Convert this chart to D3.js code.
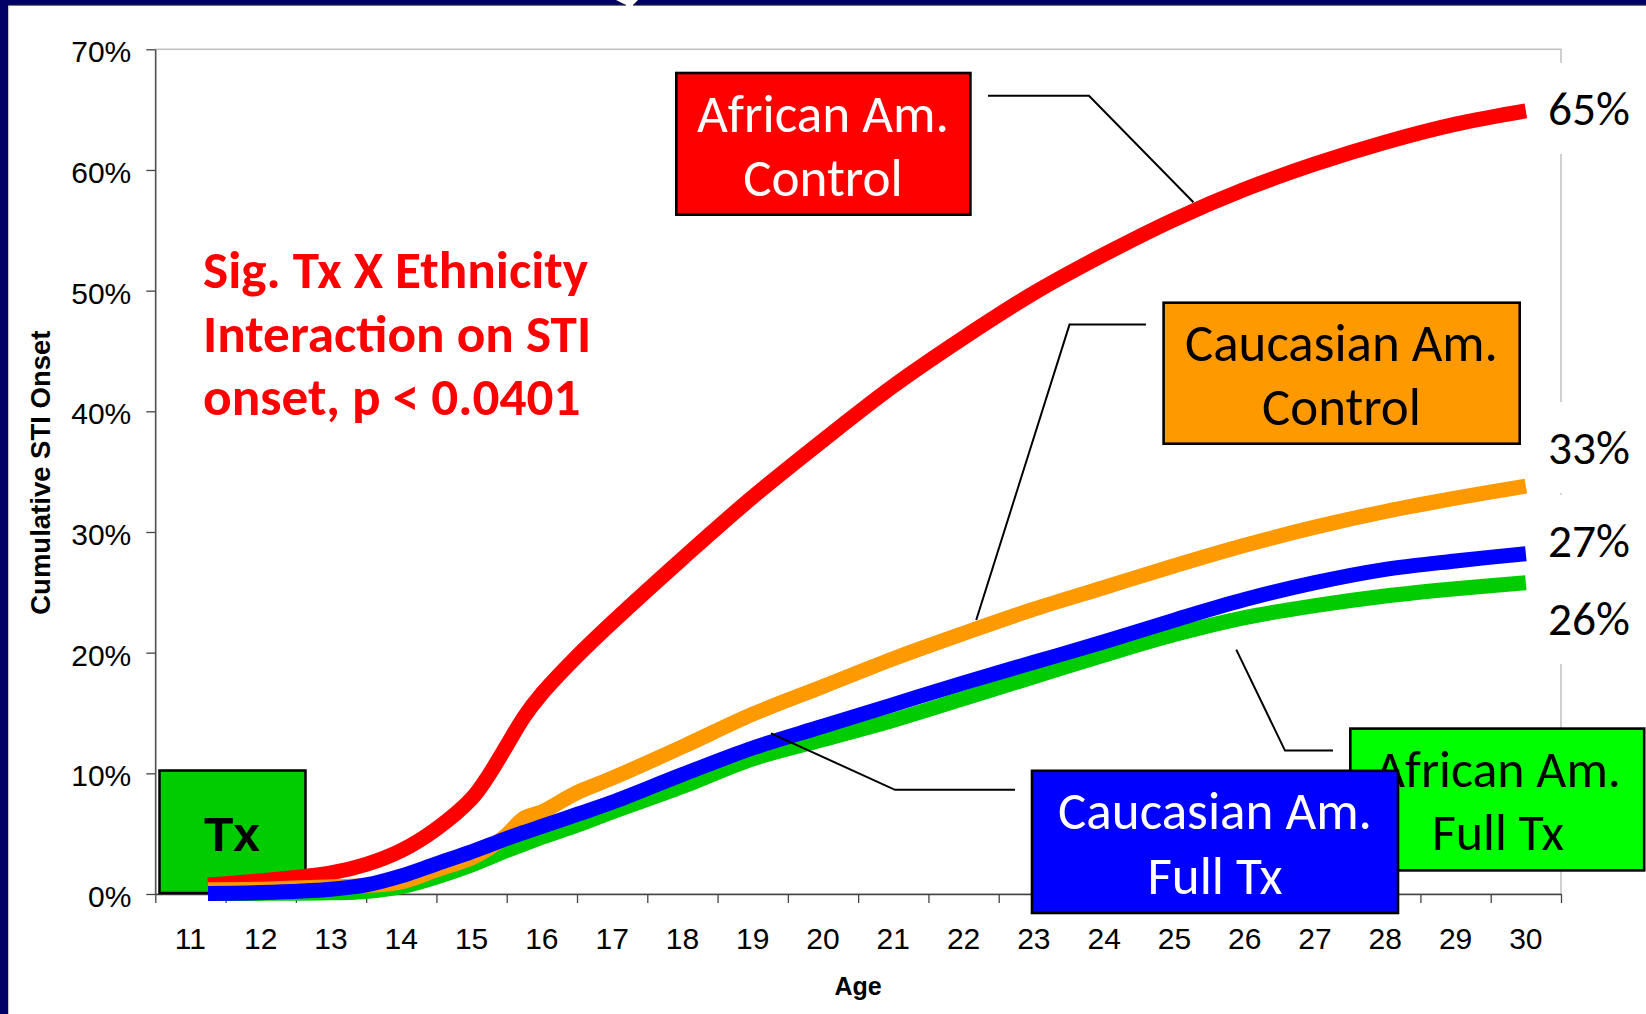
<!DOCTYPE html>
<html>
<head>
<meta charset="utf-8">
<script src="https://cdnjs.cloudflare.com/ajax/libs/d3/7.8.5/d3.min.js"></script>
<style>
  html, body { margin: 0; padding: 0; background: #fff; }
  svg { display: block; }
  .axis text { font-family: "Liberation Sans", Arial, sans-serif; font-size: 30px; fill: #000; }
  .axis path, .axis line { stroke: #444; stroke-width: 1.3px; }
</style>
</head>
<body>
<div id="chart"></div>
<script>
// ages the curves were read at, and the cumulative STI onset (%) per group
var ages        = [11.25, 12, 13, 13.5, 14, 14.5, 15, 15.25, 15.5, 15.75, 16, 16.5, 17, 18, 19, 20, 21, 22, 23, 24, 25, 26, 27, 28, 29, 30];
var afrControl  = [0.75, 1.1, 1.75, 2.45, 3.6, 5.4, 7.9, 9.9, 12.3, 14.7, 16.6, 19.7, 22.5, 27.8, 32.9, 37.6, 42.1, 46.1, 49.8, 53.0, 55.9, 58.4, 60.5, 62.3, 63.8, 64.9];
var caucControl = [0.35, 0.4, 0.6, 0.7, 1.0, 2.0, 3.0, 3.8, 4.9, 6.3, 6.8, 8.4, 9.6, 12.2, 14.9, 17.2, 19.5, 21.6, 23.6, 25.4, 27.2, 28.9, 30.4, 31.7, 32.8, 33.8];
var caucFullTx  = [0.05, 0.12, 0.4, 0.75, 1.5, 2.5, 3.5, 4.05, 4.6, 5.1, 5.6, 6.6, 7.6, 9.9, 12.1, 13.9, 15.7, 17.5, 19.2, 20.9, 22.7, 24.4, 25.8, 26.9, 27.6, 28.2];
var afrFullTx   = [0.05, 0.05, 0.1, 0.2, 0.6, 1.4, 2.4, 3.0, 3.6, 4.15, 4.7, 5.7, 6.8, 8.9, 11.2, 12.8, 14.4, 16.2, 18.0, 19.8, 21.5, 22.9, 23.9, 24.7, 25.3, 25.8];

var ageTicks  = [11, 12, 13, 14, 15, 16, 17, 18, 19, 20, 21, 22, 23, 24, 25, 26, 27, 28, 29, 30];
var pctTicks  = [0, 10, 20, 30, 40, 50, 60, 70];
var endLabels = ["65%", "33%", "27%", "26%"];
var noteLines = ["Sig. Tx X Ethnicity", "Interaction on STI", "onset, p < 0.0401"];

var W = 1646, H = 1014;
var plot = {left: 155.3, right: 1561, top: 49.3, bottom: 894};
var calibri = "Carlito, Calibri, Lato, sans-serif";
var navy = "#000066";

var svg = d3.select("#chart").append("svg")
    .attr("width", W)
    .attr("height", H);

svg.append("rect").attr("width", W).attr("height", H).attr("fill", "#fff");

// slide frame
svg.append("rect").attr("x", 0).attr("y", 0).attr("width", 8).attr("height", H).attr("fill", navy);
svg.append("line").attr("x1", 8.6).attr("x2", 8.6).attr("y1", 5).attr("y2", H)
    .attr("stroke", "#c8c8c8").attr("stroke-width", 1.2);
svg.append("polygon").attr("points", "0,0 616,0 626,5 0,5").attr("fill", navy);
svg.append("polygon").attr("points", "638,0 1646,0 1646,5 633,5").attr("fill", navy);
svg.append("line").attr("x1", 8).attr("x2", 626).attr("y1", 5.2).attr("y2", 5.2).attr("stroke", "#333").attr("stroke-width", 1);
svg.append("line").attr("x1", 633).attr("x2", W).attr("y1", 5.2).attr("y2", 5.2).attr("stroke", "#333").attr("stroke-width", 1);

// scales
var x = d3.scaleLinear().domain([10.5, 30.5]).range([plot.left, plot.right]);
var xBand = d3.scaleBand().domain(ageTicks).range([plot.left, plot.right]);
var y = d3.scaleLinear().domain([0, 70]).range([plot.bottom, plot.top]);

// plot area border
svg.append("rect")
    .attr("x", plot.left).attr("y", plot.top)
    .attr("width", plot.right - plot.left).attr("height", plot.bottom - plot.top)
    .attr("fill", "none").attr("stroke", "#c0c0c0").attr("stroke-width", 1.5);

// axes
var xAxis = d3.axisBottom(x)
    .tickValues(d3.range(10.5, 30.6, 1))
    .tickFormat("")
    .tickSize(9)
    .tickSizeOuter(0);

var xLabels = d3.axisBottom(xBand)
    .tickSize(0)
    .tickPadding(33.7);

var yAxis = d3.axisLeft(y)
    .tickValues(pctTicks)
    .tickFormat(function(d) { return d + "%"; })
    .tickSize(9)
    .tickPadding(15)
    .tickSizeOuter(0);

svg.append("g")
    .attr("class", "axis")
    .attr("transform", "translate(0," + plot.bottom + ")")
    .call(xAxis);

svg.append("g")
    .attr("class", "axis")
    .attr("transform", "translate(0," + plot.bottom + ")")
    .call(xLabels)
    .call(function(g) { g.select(".domain").remove(); });

svg.append("g")
    .attr("class", "axis")
    .attr("transform", "translate(" + plot.left + ",0)")
    .call(yAxis)
    .selectAll("text").attr("dy", "0.42em");

svg.append("text")
    .attr("x", (plot.left + plot.right) / 2)
    .attr("y", 995)
    .attr("text-anchor", "middle")
    .attr("font-family", "Liberation Sans, Arial, sans-serif")
    .attr("font-weight", "bold")
    .attr("font-size", 25)
    .text("Age");

svg.append("text")
    .attr("transform", "translate(50," + ((plot.top + plot.bottom) / 2 + 1) + ") rotate(-90)")
    .attr("text-anchor", "middle")
    .attr("font-family", "Liberation Sans, Arial, sans-serif")
    .attr("font-weight", "bold")
    .attr("font-size", 27.5)
    .text("Cumulative STI Onset");

// Tx box
svg.append("rect")
    .attr("x", 159.5).attr("y", 770.5).attr("width", 146).attr("height", 122.5)
    .attr("fill", "#00cc00").attr("stroke", "#000").attr("stroke-width", 2.5);
svg.append("text")
    .attr("x", 232).attr("y", 851)
    .attr("text-anchor", "middle")
    .attr("font-family", "Liberation Sans, Arial, sans-serif")
    .attr("font-weight", "bold")
    .attr("font-size", 48)
    .text("Tx");

// curves
var series = [
  {values: afrControl,  color: "#ff0000"},
  {values: afrFullTx,   color: "#00cc00"},
  {values: caucControl, color: "#ff9900"},
  {values: caucFullTx,  color: "#0000ff"}
];

var line = d3.line()
    .x(function(d, i) { return x(ages[i]); })
    .y(function(d) { return y(d); })
    .curve(d3.curveCatmullRom.alpha(0.5));

svg.append("g").selectAll("path")
    .data(series)
    .join("path")
    .attr("d", function(s) { return line(s.values); })
    .attr("fill", "none")
    .attr("stroke", function(s) { return s.color; })
    .attr("stroke-width", 15)
    .attr("stroke-linecap", "butt")
    .attr("stroke-linejoin", "round");

// value of a series at any age (linear between read points)
function valueAt(vals, a) {
  var i = d3.bisectRight(ages, a) - 1;
  i = Math.max(0, Math.min(ages.length - 2, i));
  var t = (a - ages[i]) / (ages[i + 1] - ages[i]);
  return vals[i] + t * (vals[i + 1] - vals[i]);
}

// leader lines, from the box side to the curve
var leaders = [
  {values: afrControl,  age: 25.27, off: -9, pts: [[988, 95.7], [1089, 95.7]]},
  {values: caucControl, age: 22.18, off: -9, pts: [[1146, 324.6], [1069.5, 324.6]]},
  {values: caucFullTx,  age: 19.26, off: -9, pts: [[1015, 789.8], [895, 789.8]]},
  {values: afrFullTx,   age: 25.88, off: 30, pts: [[1333, 750.6], [1285, 750.6]]}
];

svg.append("g").selectAll("path")
    .data(leaders)
    .join("path")
    .attr("d", function(l) {
      var end = [x(l.age), y(valueAt(l.values, l.age)) + l.off];
      return d3.line()(l.pts.concat([end]));
    })
    .attr("fill", "none")
    .attr("stroke", "#000")
    .attr("stroke-width", 2);

// font size so a string gets a given width
function fitSize(family, weight, str, target) {
  var t = svg.append("text")
      .attr("font-family", family)
      .attr("font-weight", weight)
      .attr("font-size", 50)
      .text(str);
  var w = t.node().getComputedTextLength();
  t.remove();
  return 50 * target / w;
}

// labelled boxes
var boxes = [
  {lines: ["African Am.", "Control"],     x0: 675,    y0: 71.7,  x1: 971.7,  y1: 216,   fill: "#ff0000", color: "#fff", cx: 823,    base: [131.7, 196],   width: 252},
  {lines: ["Caucasian Am.", "Control"],   x0: 1162.3, y0: 301.4, x1: 1521,   y1: 445,   fill: "#ff9900", color: "#000", cx: 1341.5, base: [361, 424.6],   width: 313},
  {lines: ["African Am.", "Full Tx"],     x0: 1349,   y0: 727.3, x1: 1645.5, y1: 871.7, fill: "#00ff00", color: "#000", cx: 1498,   base: [786.7, 850],   width: 246},
  {lines: ["Caucasian Am.", "Full Tx"],   x0: 1030.7, y0: 769.5, x1: 1399.3, y1: 914.3, fill: "#0000ff", color: "#fff", cx: 1215,   base: [829, 893.5],   width: 314}
];

boxes.forEach(function(b) {
  var g = svg.append("g");
  g.append("rect")
      .attr("x", b.x0 + 1.3).attr("y", b.y0 + 1.3)
      .attr("width", b.x1 - b.x0 - 2.6).attr("height", b.y1 - b.y0 - 2.6)
      .attr("fill", b.fill).attr("stroke", "#000").attr("stroke-width", 2.6);
  var fs = fitSize(calibri, "normal", b.lines[0], b.width);
  g.selectAll("text")
      .data(b.lines)
      .join("text")
      .attr("x", b.cx)
      .attr("y", function(d, i) { return b.base[i]; })
      .attr("text-anchor", "middle")
      .attr("font-family", calibri)
      .attr("font-size", fs)
      .attr("fill", b.color)
      .text(function(d) { return d; });
});

// end-of-curve labels on white boxes
var endBase = [125, 464, 556.7, 635];
var endSize = fitSize(calibri, "normal", endLabels[0], 82);

svg.append("g").selectAll("rect")
    .data(endBase)
    .join("rect")
    .attr("x", 1536).attr("y", function(d) { return d - 62; })
    .attr("width", W - 1536).attr("height", 91)
    .attr("fill", "#fff");

svg.append("g").selectAll("text")
    .data(endLabels)
    .join("text")
    .attr("x", 1548)
    .attr("y", function(d, i) { return endBase[i]; })
    .attr("font-family", calibri)
    .attr("font-size", endSize)
    .attr("fill", "#000")
    .text(function(d) { return d; });

// significance note
var noteSize = fitSize(calibri, "bold", noteLines[0], 385);
svg.append("g").selectAll("text")
    .data(noteLines)
    .join("text")
    .attr("x", 203)
    .attr("y", function(d, i) { return 288.3 + i * 63.4; })
    .attr("font-family", calibri)
    .attr("font-weight", "bold")
    .attr("font-size", noteSize)
    .attr("fill", "#ff0000")
    .text(function(d) { return d; });
</script>
</body>
</html>
